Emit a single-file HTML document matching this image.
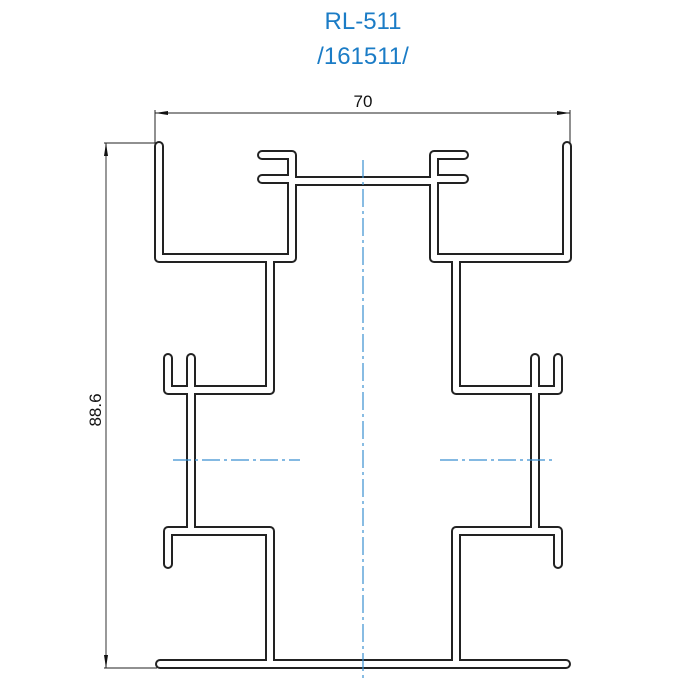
<!DOCTYPE html>
<html><head><style>
html,body{margin:0;padding:0;background:#fff;}
svg{display:block;}
</style></head><body>
<svg width="690" height="690" viewBox="0 0 690 690" xmlns="http://www.w3.org/2000/svg">
<defs>
<g id="prof" fill="none">
  <path d="M159 146 V258 H292 V155 H262"/>
  <path d="M262 179 H292"/>
  <path d="M292 181 H434"/>
  <path d="M270 258 V390 H168 V358"/>
  <path d="M191 358 V531"/>
  <path d="M168 564 V531 H270 V664"/>
  <path d="M160 664 H566"/>
  <path d="M567 146 V258 H434 V155 H464"/>
  <path d="M464 179 H434"/>
  <path d="M456 258 V390 H558 V358"/>
  <path d="M535 358 V531"/>
  <path d="M558 564 V531 H456 V664"/>
</g>
</defs>
<text x="363" y="29" text-anchor="middle" font-family="Liberation Sans, sans-serif" font-size="24" fill="#1b7cc6">RL-511</text>
<text x="363" y="64" text-anchor="middle" font-family="Liberation Sans, sans-serif" font-size="24" fill="#1b7cc6">/161511/</text>

<text x="363" y="107" text-anchor="middle" font-family="Liberation Sans, sans-serif" font-size="17" fill="#111">70</text>
<line x1="155" y1="113" x2="570" y2="113" stroke="#222" stroke-width="1"/>
<line x1="155" y1="110" x2="155" y2="143" stroke="#222" stroke-width="1"/>
<line x1="570" y1="110" x2="570" y2="150" stroke="#222" stroke-width="1"/>
<polygon points="155,113 168,111 168,115" fill="#111"/>
<polygon points="570,113 557,111 557,115" fill="#111"/>

<line x1="106" y1="143" x2="106" y2="668" stroke="#555" stroke-width="1.2"/>
<line x1="104" y1="143" x2="155" y2="143" stroke="#222" stroke-width="1"/>
<line x1="104" y1="668" x2="157" y2="668" stroke="#222" stroke-width="1"/>
<polygon points="106,143 104,156 108,156" fill="#111"/>
<polygon points="106,668 104,655 108,655" fill="#111"/>
<text transform="translate(101 410) rotate(-90)" text-anchor="middle" font-family="Liberation Sans, sans-serif" font-size="17" fill="#111">88.6</text>

<use href="#prof" stroke="#222" stroke-width="10" stroke-linecap="round" stroke-linejoin="round"/>
<use href="#prof" stroke="#fff" stroke-width="6" stroke-linecap="round" stroke-linejoin="round"/>

<line x1="363" y1="160" x2="363" y2="680" stroke="#3a8fd0" stroke-width="1.2" stroke-dasharray="18,4,3,4"/>
<line x1="173" y1="460" x2="300" y2="460" stroke="#3a8fd0" stroke-width="1.2" stroke-dasharray="18,4,3,4"/>
<line x1="440" y1="460" x2="555" y2="460" stroke="#3a8fd0" stroke-width="1.2" stroke-dasharray="18,4,3,4"/>
</svg>
</body></html>
